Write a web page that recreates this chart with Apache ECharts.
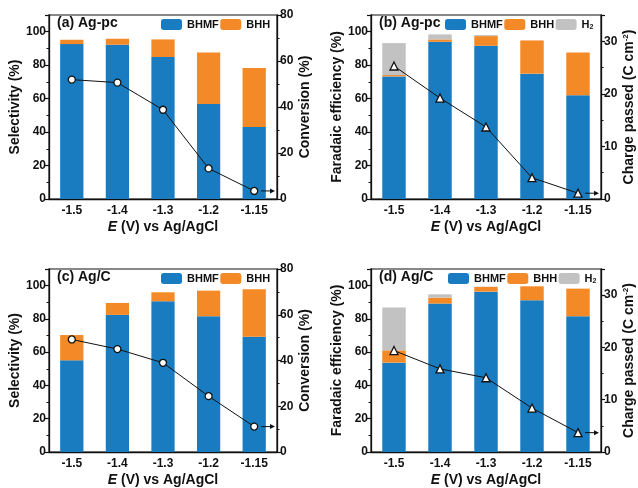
<!DOCTYPE html>
<html><head><meta charset="utf-8">
<script src="https://cdn.jsdelivr.net/npm/echarts@6/dist/echarts.min.js"></script>
<style>html,body{margin:0;padding:0;background:#fff}#c{width:638px;height:488px}</style>
</head><body><div id="c"></div>
<script>
const categories = ['-1.5','-1.4','-1.3','-1.2','-1.15'];
// (a) Ag-pc selectivity
const aBHMF = [92.6, 92.2, 84.9, 56.8, 43.0];
const aBHH = [2.6, 3.6, 10.5, 30.8, 35.3];
const aConv = [51.9, 50.6, 38.8, 13.3, 3.5];
// (b) Ag-pc faradaic efficiency
const bBHMF = [73.3, 94.0, 91.6, 74.9, 62.0];
const bBHH = [0.8, 1.4, 5.8, 19.9, 25.6];
const bH2 = [19.1, 3.0, 0.6, 0, 0];
const bCharge = [25.3, 19.2, 13.7, 4.05, 1.1];
// (c) Ag/C selectivity
const cBHMF = [55.1, 82.4, 90.6, 81.6, 69.3];
const cBHH = [15.2, 7.2, 5.4, 15.4, 28.5];
const cConv = [49.2, 45.0, 39.0, 24.4, 11.1];
// (d) Ag/C faradaic efficiency
const dBHMF = [53.7, 89.2, 96.4, 91.2, 81.6];
const dBHH = [7.4, 3.6, 2.8, 8.4, 16.6];
const dH2 = [25.7, 2.0, 0.2, 0, 0];
const dCharge = [19.4, 15.9, 14.2, 8.4, 3.7];

const titles = ['(a) Ag-pc', '(b) Ag-pc', '(c) Ag/C', '(d) Ag/C'];

const BLUE = '#1a7cc0', ORANGE = '#f48a27', GRAY = '#c2c2c2', INK = '#111';
const FONT = 'Liberation Sans';

const grids = [
  {left: 49, top: 15, width: 228, height: 184},
  {left: 371, top: 15, width: 230, height: 184},
  {left: 49, top: 269, width: 228, height: 183},
  {left: 371, top: 269, width: 230, height: 183}
];

function xAxis(i){
  return {
    type: 'category', gridIndex: i, data: categories,
    name: '{i|E} (V) vs Ag/AgCl', nameLocation: 'middle', nameGap: 21,
    nameTextStyle: {fontFamily: FONT, fontWeight: 'bold', fontSize: 14, color: INK,
      rich: {i: {fontFamily: FONT, fontWeight: 'bold', fontStyle: 'italic', fontSize: 14, color: INK}}},
    axisLine: {lineStyle: {color: INK, width: 1.3}},
    axisTick: {alignWithLabel: true, length: 4, lineStyle: {color: INK, width: 1.2}},
    axisLabel: {fontFamily: FONT, fontWeight: 'bold', fontSize: 12, color: INK, margin: 6},
    splitLine: {show: false}
  };
}
function leftY(i, name){
  return {
    type: 'value', gridIndex: i, position: 'left', min: 0, max: 110, interval: 20,
    name: name, nameLocation: 'middle', nameGap: 25,
    nameTextStyle: {fontFamily: FONT, fontWeight: 'bold', fontSize: 14, color: INK},
    axisLine: {show: true, lineStyle: {color: INK, width: 1.3}},
    axisTick: {show: true, length: 4, lineStyle: {color: INK, width: 1.2}},
    minorTick: {show: true, splitNumber: 2, length: 2.5, lineStyle: {color: INK, width: 1}},
    axisLabel: {fontFamily: FONT, fontWeight: 'bold', fontSize: 12, color: INK, margin: 3, showMaxLabel: false},
    splitLine: {show: false}, minorSplitLine: {show: false}
  };
}
function rightY(i, name, max, interval, rich){
  return {
    type: 'value', gridIndex: i, position: 'right', min: 0, max: max, interval: interval,
    name: name, nameLocation: 'middle', nameGap: 21,
    nameTextStyle: Object.assign({fontFamily: FONT, fontWeight: 'bold', fontSize: 14, color: INK}, rich ? {rich: rich} : {}),
    axisLine: {show: true, lineStyle: {color: INK, width: 1.3}},
    axisTick: {show: true, length: 4, lineStyle: {color: INK, width: 1.2}},
    minorTick: {show: true, splitNumber: 2, length: 2.5, lineStyle: {color: INK, width: 1}},
    axisLabel: {fontFamily: FONT, fontWeight: 'bold', fontSize: 12, color: INK, margin: 3, showMaxLabel: max % interval === 0},
    splitLine: {show: false}, minorSplitLine: {show: false}
  };
}
const supRich = {
  s: {fontFamily: FONT, fontWeight: 'bold', fontSize: 8, color: INK, verticalAlign: 'top', padding: [0,0,6,0]}
};

function bar(name, data, i, color){
  return {
    type: 'bar', name: name, data: data, stack: 's' + i, xAxisIndex: i, yAxisIndex: 2 * i,
    barWidth: '51%', itemStyle: {color: color}, animation: false, silent: true
  };
}
function line(name, data, i, symbol, size){
  return {
    type: 'line', name: name, data: data, xAxisIndex: i, yAxisIndex: 2 * i + 1,
    symbol: symbol, symbolSize: size, showAllSymbol: true, z: 5,
    lineStyle: {color: INK, width: 1}, itemStyle: {color: '#fff', borderColor: INK, borderWidth: 1.3},
    animation: false, silent: true
  };
}

const legendText = {fontFamily: FONT, fontWeight: 'bold', fontSize: 11, color: INK,
  rich: {sub: {fontFamily: FONT, fontWeight: 'bold', fontSize: 7, color: INK, verticalAlign: 'bottom', padding: [6,0,0,0]}}};
function legend(left, top, names){
  return {
    left: left, top: top, data: names, itemWidth: 21, itemHeight: 11, itemGap: 1.5,
    textStyle: legendText, selectedMode: false, padding: 0,
    formatter: n => n === 'H2' ? 'H{sub|2}' : n
  };
}

const option = {
  animation: false,
  backgroundColor: '#fff',
  grid: grids.map(g => Object.assign({show: true, borderColor: INK, borderWidth: 1.2, backgroundColor: 'transparent'}, g)),
  title: [
    {text: titles[0], left: 57, top: 16},
    {text: titles[1], left: 379, top: 16},
    {text: titles[2], left: 57, top: 270},
    {text: titles[3], left: 379, top: 270}
  ].map(t => Object.assign(t, {padding: 0, textStyle: {fontFamily: FONT, fontWeight: 'bold', fontSize: 14, color: INK}})),
  legend: [
    legend(161, 19, ['BHMF', 'BHH']),
    legend(445, 19, [{name: 'BHMF'}, {name: 'BHH'}, {name: 'H2'}]),
    legend(161, 273, ['BHMF', 'BHH']),
    legend(448, 273, [{name: 'BHMF'}, {name: 'BHH'}, {name: 'H2'}])
  ],
  xAxis: [0, 1, 2, 3].map(xAxis),
  yAxis: [
    leftY(0, 'Selectivity (%)'), rightY(0, 'Conversion (%)', 80, 20),
    leftY(1, 'Faradaic efficiency (%)'), rightY(1, 'Charge passed (C cm{s|-2})', 35, 10, supRich),
    leftY(2, 'Selectivity (%)'), rightY(2, 'Conversion (%)', 80, 20),
    leftY(3, 'Faradaic efficiency (%)'), rightY(3, 'Charge passed (C cm{s|-2})', 35, 10, supRich)
  ],
  series: [
    bar('BHMF', aBHMF, 0, BLUE), bar('BHH', aBHH, 0, ORANGE), line('conv_a', aConv, 0, 'circle', 7),
    bar('BHMF', bBHMF, 1, BLUE), bar('BHH', bBHH, 1, ORANGE), bar('H2', bH2, 1, GRAY), line('charge_b', bCharge, 1, 'triangle', 8),
    bar('BHMF', cBHMF, 2, BLUE), bar('BHH', cBHH, 2, ORANGE), line('conv_c', cConv, 2, 'circle', 7),
    bar('BHMF', dBHMF, 3, BLUE), bar('BHH', dBHH, 3, ORANGE), bar('H2', dH2, 3, GRAY), line('charge_d', dCharge, 3, 'triangle', 8)
  ]
};
const chart = echarts.init(document.getElementById('c'), null, {renderer: 'canvas'});
chart.setOption(option);

// arrows pointing from the last point of each line to its right-hand axis
const lineData = [aConv, bCharge, cConv, dCharge];
const arrows = [];
lineData.forEach((d, i) => {
  const last = d.length - 1;
  const p = chart.convertToPixel({xAxisIndex: i, yAxisIndex: 2 * i + 1}, [last, d[last]]);
  const prev = chart.convertToPixel({xAxisIndex: i, yAxisIndex: 2 * i + 1}, [last - 1, d[last]]);
  const band = p[0] - prev[0];
  const x0 = p[0] + 7, x1 = p[0] + band / 2 - 2, y = p[1];
  arrows.push({type: 'line', silent: true, z: 10, shape: {x1: x0, y1: y, x2: x1 - 4, y2: y}, style: {stroke: INK, lineWidth: 1}});
  arrows.push({type: 'polygon', silent: true, z: 10, shape: {points: [[x1, y], [x1 - 5, y - 2.5], [x1 - 5, y + 2.5]]}, style: {fill: INK}});
});
chart.setOption({graphic: arrows});
</script>
</body></html>
